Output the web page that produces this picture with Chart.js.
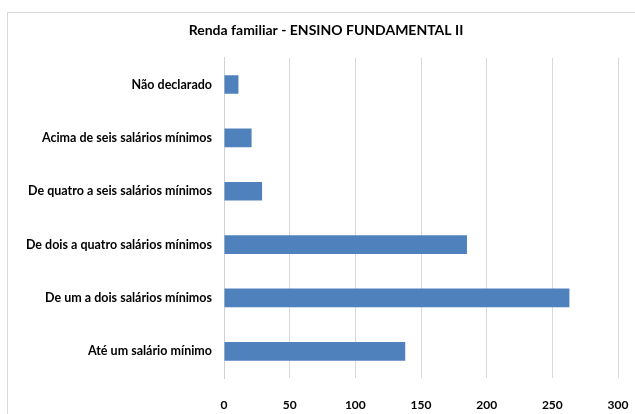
<!DOCTYPE html>
<html><head><meta charset="utf-8">
<script src="https://cdn.jsdelivr.net/npm/chart.js@4/dist/chart.umd.min.js"></script>
<style>html,body{margin:0;padding:0;background:#fff;}#wrap{width:635px;height:414px;position:relative;}</style>
</head><body><div id="wrap"><canvas id="c" width="635" height="414"></canvas></div>
<script>
const categories = ["Não declarado","Acima de seis salários mínimos","De quatro a seis salários mínimos","De dois a quatro salários mínimos","De um a dois salários mínimos","Até um salário mínimo"];
const values = [11, 21, 29, 185, 263, 138];
const xTicks = [0, 50, 100, 150, 200, 250, 300];
const titleText = "Renda familiar - ENSINO FUNDAMENTAL II";

const frame = {
  id: 'frame',
  beforeDraw(chart) {
    const ctx = chart.ctx;
    ctx.save();
    ctx.fillStyle = '#fff';
    ctx.fillRect(0, 0, chart.width, chart.height);
    ctx.strokeStyle = '#d9d9d9';
    ctx.lineWidth = 1;
    ctx.strokeRect(7.5, 12.5, 700, 500);
    ctx.restore();
  }
};

new Chart(document.getElementById('c'), {
  type: 'bar',
  data: { labels: categories, datasets: [{ data: values, backgroundColor: '#4f81bd', borderWidth: 0, barPercentage: 0.7, categoryPercentage: 0.5 }] },
  options: {
    indexAxis: 'y',
    responsive: false,
    animation: false,
    layout: { padding: { left: 17, right: 0, top: 0, bottom: 0 } },
    plugins: {
      legend: { display: false },
      tooltip: { enabled: false },
      title: { display: true, text: titleText, color: '#000', font: { family: 'Lato', weight: 'bold', size: 14 }, padding: { top: 22, bottom: 19 } }
    },
    scales: {
      x: {
        min: 0, max: 300,
        afterBuildTicks(s) { s.ticks = xTicks.map(v => ({ value: v })); },
        afterFit(s) { s.height = 36; s.paddingRight = 17; s.paddingLeft = 0; },
        grid: { color: '#d9d9d9', drawTicks: false },
        border: { display: false },
        ticks: { padding: 20, color: '#000', font: { family: 'Lato', weight: 'bold', size: 12 } }
      },
      y: {
        afterFit(s) { s.width = 207; },
        grid: { display: false, drawTicks: false },
        border: { display: true, color: '#d0d0d0' },
        ticks: { padding: 12, color: '#000', font: { family: 'Lato', weight: 'bold', size: 12.5 } }
      }
    }
  },
  plugins: [frame]
});
</script></body></html>
